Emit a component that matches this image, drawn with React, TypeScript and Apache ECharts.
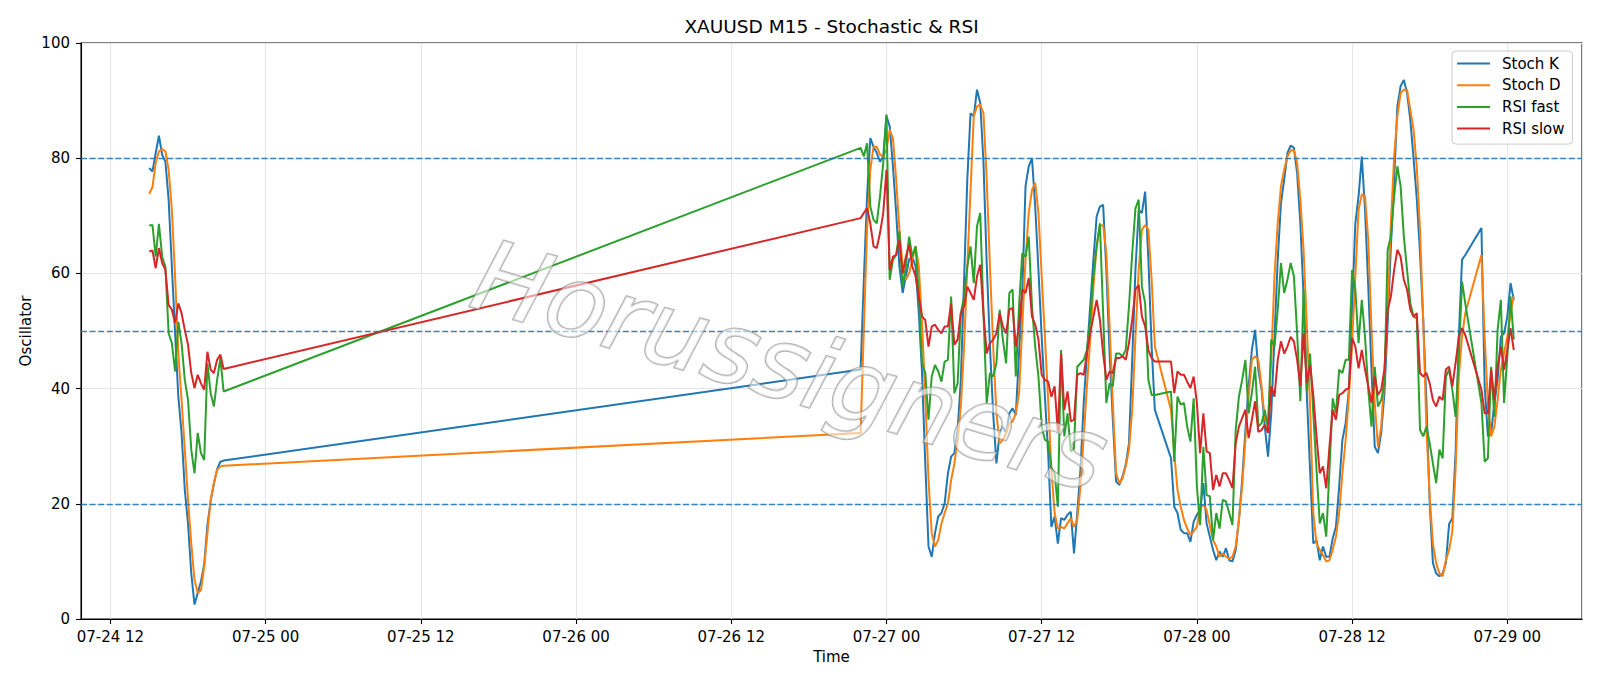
import React, { useEffect, useRef } from 'react';
import * as echarts from 'echarts';

// Session starts (local time) and bar step, one per data segment
const SEGMENT_STARTS = [
  [2020, 7, 24, 15, 0],
  [2020, 7, 26, 22, 0],
  [2020, 7, 27, 22, 0],
  [2020, 7, 28, 22, 0],
];
const STEP_MINUTES = 15;

const SERIES_NAMES = ['Stoch K', 'Stoch D', 'RSI fast', 'RSI slow'];
const SERIES_COLORS = ['#1f77b4', '#ff7f0e', '#2ca02c', '#d62728'];
const LEVELS = [20, 50, 80];

// ---- Stoch K ----
const stochK1 = [78.3, 77.7, 80.9, 83.9, 80.6, 79.4, 72.8, 61.2, 49.6, 38.6, 32.3, 22.4, 16.6, 7.9, 2.5, 4.5, 6.5, 9.5, 16.3, 20.5, 23.5, 26.0, 27.3, 27.5];
const stochK2 = [43.3, 58.9, 73.4, 83.5, 82.0, 80.9, 79.4, 80.3, 87.3, 85.5, 78.6, 70.5, 61.2, 56.6, 59.5, 62.4, 62.9, 61.2, 53.1, 42.7, 27.0, 12.6, 10.8, 14.9, 17.8, 18.4, 20.1, 25.3, 28.2, 28.8, 32.8, 41.5, 58.9, 76.3, 87.8, 87.3, 91.9, 89.6, 79.2, 61.8, 47.3, 35.7, 27.0, 32.3, 33.4, 32.3, 35.7,
  36.6, 35.4, 46.1, 56.6, 75.1, 78.6, 80.0, 71.6, 60.6, 49.0, 38.6, 28.8, 16.0, 17.8, 13.1, 17.5, 17.2, 18.1, 18.6, 11.4, 18.4, 25.9, 37.5, 46.1, 54.3, 62.4, 69.9, 71.6, 71.9, 60.6, 46.1, 34.6, 23.9, 23.3, 24.7, 26.8, 30.5, 45.0, 60.6, 71.0, 70.5, 74.2, 62.4, 47.3, 36.3];
const stochK3 = [27.9, 19.5, 18.4, 15.5, 14.9, 14.9, 13.4, 16.9, 18.1, 18.9, 23.6, 16.6, 14.3, 12.0, 10.2, 11.7, 10.8, 12.3, 10.2, 10.0, 12.0, 17.2, 24.1, 32.8, 40.4, 46.7, 50.2, 43.3, 39.8, 33.4, 28.2, 35.7, 49.0, 62.4, 72.2, 76.3, 80.9, 82.2, 81.8, 77.4, 68.7, 56.0, 39.0, 26.0, 13.1, 13.7, 10.2, 12.6, 10.8, 10.8, 14.0, 16.0, 23.0, 31.1, 34.0, 39.8, 53.7, 68.7, 73.4, 80.3, 71.0, 57.7, 43.3, 29.9, 28.8, 32.3, 39.2, 51.4, 64.7, 76.3, 89.0, 92.5, 93.6, 91.3, 86.7, 80.0, 73.0, 63.5, 51.9, 37.5, 20.1, 9.7, 7.9, 7.4, 7.9, 9.7, 16.5, 17.5, 28.8, 49.0, 62.4, 63.2];
const stochK4 = [67.9, 40.4, 31.7, 32.3, 37.5, 41.5, 49.0, 49.6, 52.5, 58.3, 55.4];

// ---- Stoch D ----
const stochD1 = [73.8, 75.0, 79.2, 81.2, 81.6, 81.2, 78.0, 71.0, 59.5, 46.1, 38.0, 29.4, 20.7, 13.1, 6.8, 4.5, 5.0, 9.1, 14.9, 20.7, 23.6, 25.9, 26.5, 26.6];
const stochD2 = [32.3, 50.2, 67.6, 78.0, 82.0, 82.0, 80.6, 80.3, 81.5, 84.9, 83.5, 76.3, 67.6, 61.2, 58.9, 60.0, 62.4, 64.7, 61.2, 51.4, 38.6, 24.1, 14.9, 12.6, 13.7, 16.6, 18.4, 20.1, 24.1, 27.0, 31.1, 36.9, 47.3, 61.2, 74.5, 87.3, 89.0, 89.3, 87.8, 76.3, 61.2, 47.3, 35.7, 30.5, 31.1, 32.3, 34.0,
  34.3, 35.7, 39.2, 50.8, 62.4, 70.5, 74.5, 75.7, 70.5, 59.5, 49.0, 38.0, 25.9, 18.4, 15.7, 16.0, 15.7, 16.6, 17.5, 16.0, 17.2, 23.0, 31.7, 40.4, 48.5, 57.7, 64.7, 68.2, 68.4, 63.5, 50.8, 37.5, 25.3, 23.6, 24.4, 26.5, 29.4, 36.3, 49.0, 60.6, 67.6, 68.4, 67.6, 58.9, 47.3];
const stochD3 = [36.3, 28.8, 22.4, 19.5, 17.2, 15.7, 14.6, 15.2, 16.0, 19.5, 19.8, 18.9, 16.3, 13.7, 12.6, 10.8, 11.4, 10.8, 10.5, 10.8, 12.6, 17.2, 23.0, 31.1, 38.6, 45.0, 45.6, 45.0, 40.4, 34.6, 34.3, 45.0, 59.5, 68.7, 75.1, 78.0, 80.3, 81.4, 81.4, 79.2, 72.8, 64.0, 51.0, 37.0, 18.4, 13.1, 12.0, 11.1, 10.0, 10.2, 12.0, 14.3, 18.4, 25.3, 31.1, 38.6, 47.9, 59.5, 71.0, 73.7, 73.4, 65.8, 50.2, 37.5, 29.9, 33.4, 42.1, 54.8, 68.7, 80.3, 87.3, 91.3, 91.9, 91.9, 88.4, 85.0, 78.5, 67.6, 51.9, 32.8, 21.2, 13.1, 9.7, 7.9, 7.4, 10.2, 12.0, 15.2, 25.9, 42.1, 49.0, 53.1];
const stochD4 = [63.2, 49.0, 37.5, 31.7, 33.4, 38.0, 43.3, 46.1, 49.0, 53.1, 56.0];

// ---- RSI fast ----
const rsiFast1 = [68.3, 68.4, 62.9, 68.6, 62.9, 61.2, 49.6, 47.9, 43.0, 51.6, 47.9, 41.5, 38.0, 29.4, 25.3, 32.3, 28.8, 27.6, 44.4, 39.2, 36.9, 41.5, 45.3, 39.5];
const rsiFast2 = [81.8, 80.3, 82.6, 71.6, 69.3, 68.7, 73.4, 79.2, 87.6, 58.9, 62.4, 63.2, 67.3, 57.7, 61.2, 66.4, 62.9, 64.7, 56.6, 44.4, 42.7, 34.6, 42.1, 44.1, 43.0, 41.2, 44.7, 45.0, 56.0, 39.2, 40.9, 53.1, 56.0, 61.2, 64.7, 58.3, 68.2, 70.5, 53.1, 37.5, 42.7, 42.1, 44.4, 53.7, 48.5, 44.4, 56.6,
  57.2, 42.1, 54.3, 63.5, 62.9, 66.4, 54.3, 47.3, 42.1, 33.4, 31.1, 30.8, 26.2, 25.3, 19.5, 46.7, 31.7, 35.7, 29.1, 29.6, 43.8, 44.4, 45.0, 46.7, 51.9, 59.5, 64.7, 68.7, 53.1, 37.5, 40.9, 40.4, 46.1, 46.1, 45.6, 46.7, 54.3, 63.5, 71.3, 72.8, 57.7, 54.8, 41.5, 38.9, 38.9];
const rsiFast3 = [39.5, 27.3, 38.6, 37.2, 37.5, 33.4, 30.8, 38.3, 23.0, 16.3, 29.9, 21.5, 21.3, 13.7, 18.4, 15.7, 20.7, 20.4, 18.4, 16.3, 32.8, 38.6, 41.5, 45.0, 35.7, 39.2, 43.8, 33.4, 34.0, 36.3, 32.8, 48.5, 47.3, 53.7, 61.8, 56.6, 58.9, 61.8, 59.5, 49.6, 37.8, 57.2, 39.5, 46.1, 35.7, 25.9, 16.6, 18.4, 14.3, 25.9, 38.3, 35.7, 43.3, 42.7, 45.0, 45.0, 60.6, 57.2, 47.9, 55.4, 49.0, 39.8, 33.4, 43.8, 36.9, 38.0, 40.9, 64.1, 66.4, 73.4, 78.6, 75.1, 66.4, 60.6, 54.8, 52.5, 52.2, 32.8, 31.7, 33.4, 30.5, 27.0, 23.6, 29.4, 27.9, 42.1, 43.3, 39.8, 35.1, 45.6, 58.6, 54.8];
const rsiFast4 = [37.5, 27.3, 27.9, 43.8, 35.1, 50.2, 55.4, 37.5, 45.6, 56.0, 48.5];

// ---- RSI slow ----
const rsiSlow1 = [63.8, 64.0, 60.9, 64.4, 61.8, 60.6, 54.5, 53.7, 51.4, 54.8, 53.1, 50.2, 47.6, 42.7, 40.1, 42.4, 40.9, 39.8, 46.4, 43.3, 42.7, 45.0, 45.9, 43.4];
const rsiSlow2 = [69.6, 70.5, 71.3, 68.7, 64.7, 64.4, 67.0, 70.5, 78.0, 60.6, 62.9, 63.2, 65.8, 60.0, 62.9, 65.0, 61.2, 59.5, 56.0, 52.5, 51.9, 47.3, 50.8, 51.1, 50.2, 49.6, 50.8, 50.8, 54.8, 47.6, 48.5, 53.1, 54.3, 57.7, 56.6, 55.4, 59.5, 61.5, 53.1, 46.1, 47.9, 48.5, 49.6, 53.1, 50.8, 49.6, 53.7,
  54.0, 47.3, 50.8, 57.2, 56.6, 59.2, 52.5, 51.1, 48.5, 42.4, 41.5, 41.2, 38.6, 40.4, 32.5, 46.1, 36.3, 39.5, 34.3, 34.6, 42.4, 42.7, 42.4, 46.1, 49.6, 52.5, 55.4, 52.0, 46.1, 41.5, 43.0, 42.7, 45.3, 45.3, 45.6, 45.0, 47.9, 52.0, 57.2, 58.0, 52.5, 50.8, 46.7, 45.3, 44.7];
const rsiSlow3 = [44.7, 39.2, 43.0, 42.4, 42.4, 41.2, 40.1, 42.1, 37.5, 28.8, 35.7, 29.1, 28.8, 22.4, 25.0, 23.0, 25.3, 25.3, 24.1, 22.7, 30.5, 33.4, 34.9, 36.3, 31.4, 34.6, 37.8, 32.5, 32.8, 33.7, 32.3, 40.4, 38.6, 45.0, 48.2, 46.1, 47.3, 49.0, 48.2, 45.0, 40.4, 49.6, 41.0, 44.1, 38.9, 31.7, 25.3, 26.5, 22.7, 29.9, 36.3, 34.6, 38.9, 39.2, 39.8, 40.1, 48.8, 47.3, 43.5, 46.7, 43.3, 40.4, 37.5, 42.1, 38.9, 39.8, 43.3, 53.7, 56.0, 60.6, 64.1, 62.9, 58.9, 57.2, 53.7, 52.5, 53.1, 42.7, 42.1, 42.7, 40.9, 38.0, 36.9, 38.6, 38.0, 43.3, 43.8, 40.4, 44.4, 49.0, 50.5, 49.3];
const rsiSlow4 = [39.8, 35.7, 35.7, 43.3, 38.0, 43.8, 47.3, 43.3, 46.7, 50.5, 46.7];

const SERIES_SEGMENTS = [
  [stochK1, stochK2, stochK3, stochK4],
  [stochD1, stochD2, stochD3, stochD4],
  [rsiFast1, rsiFast2, rsiFast3, rsiFast4],
  [rsiSlow1, rsiSlow2, rsiSlow3, rsiSlow4],
];

const FONT = 'DejaVu Sans';
const TICK_HOURS = 12;

function segStartMs(s: number[]) {
  return new Date(s[0], s[1] - 1, s[2], s[3], s[4]).getTime();
}

function buildData(segs: number[][]) {
  const out: [number, number][] = [];
  segs.forEach((vals, k) => {
    const t0 = segStartMs(SEGMENT_STARTS[k]);
    vals.forEach((v, i) => out.push([t0 + i * STEP_MINUTES * 60000, v]));
  });
  return out;
}

const pad2 = (n: number) => String(n).padStart(2, '0');

export default function App() {
  const ref = useRef<HTMLDivElement>(null);
  useEffect(() => {
    const chart = echarts.init(ref.current!, null, { renderer: 'svg', width: 1600, height: 686 });
    const datasets = SERIES_SEGMENTS.map(buildData);
    const allT = datasets.flat().map((d) => d[0]);
    const tMin = Math.min(...allT);
    const tMax = Math.max(...allT);
    const margin = (tMax - tMin) * 0.05;

    const series: any[] = datasets.map((data, i) => ({
      name: SERIES_NAMES[i],
      type: 'line',
      data,
      symbol: 'none',
      showSymbol: false,
      lineStyle: { color: SERIES_COLORS[i], width: 2 },
      itemStyle: { color: SERIES_COLORS[i] },
      z: 3 + i,
    }));
    series[0].markLine = {
      silent: true,
      symbol: ['none', 'none'],
      label: { show: false },
      lineStyle: { color: '#1f77b4', type: [6, 2.6], width: 1.3, opacity: 0.9 },
      data: LEVELS.map((v) => ({ yAxis: v })),
      z: 10,
    };

    const option: any = {
      animation: false,
      backgroundColor: '#ffffff',
      textStyle: { fontFamily: FONT },
      grid: {
        left: 81, right: 18, top: 43, bottom: 67,
        show: true, borderColor: '#000', borderWidth: 1.1, backgroundColor: 'transparent',
      },
      legend: {
        left: 1452, top: 51,
        orient: 'vertical',
        icon: 'rect',
        itemWidth: 33, itemHeight: 2, itemGap: 6.7,
        padding: [5, 8, 8, 5],
        backgroundColor: 'rgba(255,255,255,0.8)',
        borderColor: '#cccccc', borderWidth: 1, borderRadius: 4,
        textStyle: { fontFamily: FONT, fontSize: 15, color: '#000', padding: [0, 0, 0, 7], lineHeight: 15 },
        data: SERIES_NAMES,
        z: 20,
      },
      xAxis: {
        type: 'time',
        min: tMin - margin,
        max: tMax + margin,
        splitNumber: 9,
        minInterval: (TICK_HOURS + 0.5) * 3600 * 1000,
        maxInterval: (TICK_HOURS + 0.5) * 3600 * 1000,
        axisLine: { show: true, lineStyle: { color: '#000', width: 1.1 } },
        axisTick: { show: true, length: 5, lineStyle: { color: '#000', width: 1.1 } },
        axisLabel: {
          fontFamily: FONT, fontSize: 15, color: '#000', margin: 10,
          formatter: (val: number) => {
            const d = new Date(val);
            if (d.getMinutes() !== 0 || d.getSeconds() !== 0 || d.getHours() % TICK_HOURS !== 0) return '';
            return `${pad2(d.getMonth() + 1)}-${pad2(d.getDate())} ${pad2(d.getHours())}`;
          },
        },
        splitLine: { show: true, lineStyle: { color: '#e6e6e6', width: 1.1 } },
      },
      yAxis: {
        type: 'value',
        min: 0, max: 100, interval: 20,
        axisLine: { show: true, lineStyle: { color: '#000', width: 1.1 } },
        axisTick: { show: true, length: 5, lineStyle: { color: '#000', width: 1.1 } },
        axisLabel: { fontFamily: FONT, fontSize: 15, color: '#000', margin: 11 },
        splitLine: { show: true, lineStyle: { color: '#e6e6e6', width: 1.1 } },
      },
      graphic: [
        {
          type: 'text', x: 831.5, y: 26, z: 50,
          style: { text: 'XAUUSD M15 - Stochastic & RSI', fontFamily: FONT, fontSize: 18.5, fill: '#000', align: 'center', verticalAlign: 'middle' },
        },
        {
          type: 'text', x: 831.5, y: 657, z: 50,
          style: { text: 'Time', fontFamily: FONT, fontSize: 15, fill: '#000', align: 'center', verticalAlign: 'middle' },
        },
        {
          type: 'text', x: 25.5, y: 331, rotation: Math.PI / 2, z: 50,
          style: { text: 'Oscillator', fontFamily: FONT, fontSize: 15, fill: '#000', align: 'center', verticalAlign: 'middle' },
        },
        {
          type: 'text', x: 790, y: 366, rotation: -0.29, z: 40,
          style: {
            text: 'Horussigners', fontFamily: FONT, fontSize: 100, fontStyle: 'italic',
            fill: 'rgba(255,255,255,0.55)', stroke: 'rgba(125,125,125,0.6)', lineWidth: 2,
            shadowColor: 'rgba(0,0,0,0.3)', shadowOffsetX: 2, shadowOffsetY: 2, shadowBlur: 3,
            align: 'center', verticalAlign: 'middle',
          },
        },
      ],
      series,
    };
    chart.setOption(option);
    return () => chart.dispose();
  }, []);
  return (
    <div
      ref={ref}
      style={{ position: 'absolute', left: 0, top: 0, width: 1600, height: 686, background: '#fff' }}
    />
  );
}
